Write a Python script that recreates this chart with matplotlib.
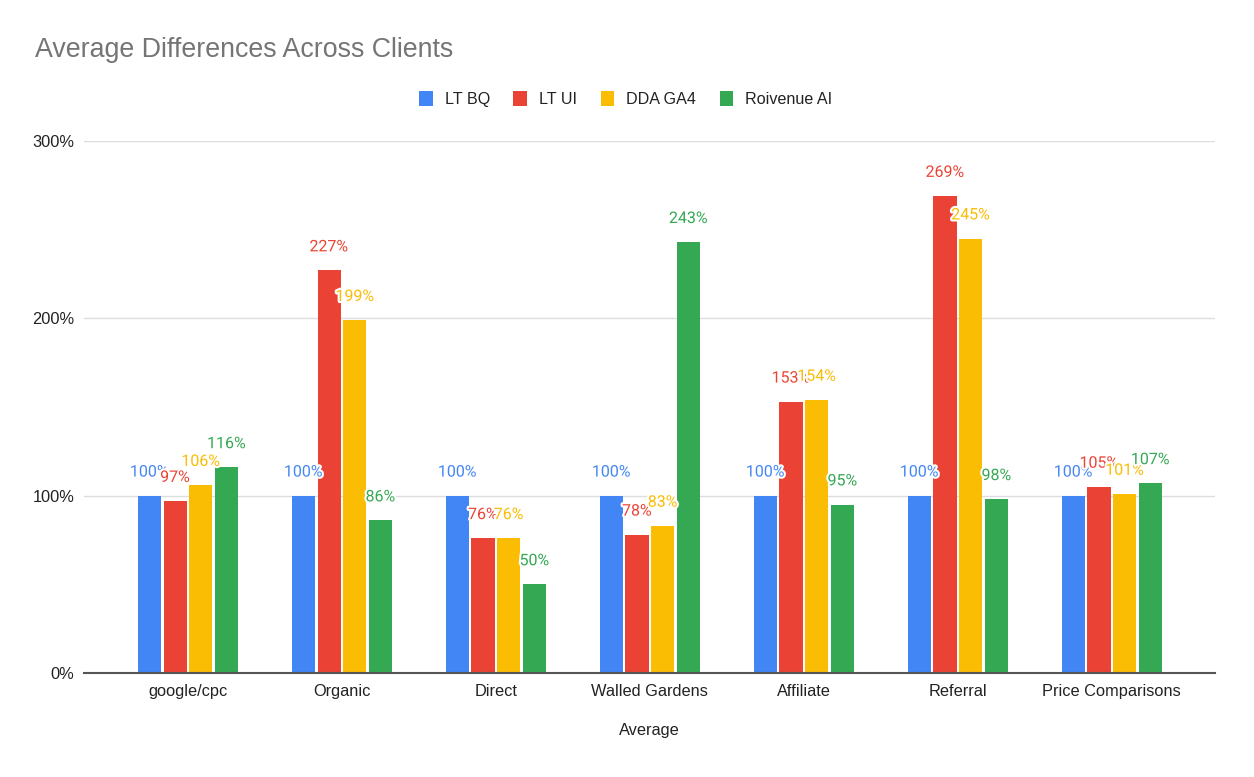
import numpy as np
import matplotlib.pyplot as plt
import matplotlib.patheffects as pe
from matplotlib.patches import Patch

plt.rcParams['font.family'] = ['Liberation Sans', 'DejaVu Sans']

categories = ["google/cpc", "Organic", "Direct", "Walled Gardens",
              "Affiliate", "Referral", "Price Comparisons"]
series_names = ["LT BQ", "LT UI", "DDA GA4", "Roivenue AI"]
lt_bq = [100, 100, 100, 100, 100, 100, 100]
lt_ui = [97, 227, 76, 78, 153, 269, 105]
dda_ga4 = [106, 199, 76, 83, 154, 245, 101]
roivenue_ai = [116, 86, 50, 243, 95, 98, 107]
yticks = [0, 100, 200, 300]

colors = ["#4285F4", "#EA4335", "#FBBC04", "#34A853"]
series = [lt_bq, lt_ui, dda_ga4, roivenue_ai]

fig = plt.figure(figsize=(12.54, 7.77), dpi=100)
ax = fig.add_axes([84 / 1254, 1 - 673 / 777, 1131 / 1254, 532 / 777])

x = np.arange(len(categories))
step = 0.167
width = 0.15
for i, (name, vals, col) in enumerate(zip(series_names, series, colors)):
    pos = x + (i - 1.5) * step
    ax.bar(pos, vals, width=width, color=col, label=name, zorder=3)
    for px, v in zip(pos, vals):
        ax.annotate(f"{v}%", (px, v), xytext=(0, 17), textcoords="offset points",
                    ha="center", va="center", fontsize=11.5, color=col, zorder=5,
                    family=["Roboto", "DejaVu Sans"],
                    path_effects=[pe.withStroke(linewidth=3, foreground="white")])

ax.set_xlim(-0.675, 6.67)
ax.set_ylim(0, 300)
ax.set_yticks(yticks)
ax.set_yticklabels([f"{t}%" for t in yticks])
ax.set_xticks(x)
ax.set_xticklabels(categories)
ax.tick_params(axis="both", length=0, labelsize=11.8, labelcolor="#222222")
ax.tick_params(axis="y", pad=7)
ax.tick_params(axis="x", pad=8)
ax.grid(axis="y", color="#dddddd", linewidth=1, zorder=0)
for s in ["top", "right", "left"]:
    ax.spines[s].set_visible(False)
ax.spines["bottom"].set_color("#555555")
ax.spines["bottom"].set_linewidth(1.5)
ax.spines["bottom"].set_zorder(4)

ax.set_xlabel("Average", fontsize=11.8, color="#222222", labelpad=17)

fig.text(35 / 1254, 1 - 50 / 777, "Average Differences Across Clients",
         fontsize=19.3, color="#757575", ha="left", va="center")

handles = [Patch(facecolor=c, label=n) for c, n in zip(colors, series_names)]
fig.legend(handles=handles, loc="center", bbox_to_anchor=(0.499, 1 - 99 / 777),
           ncol=4, frameon=False, fontsize=11.6, handlelength=0.85, handleheight=1.1,
           handletextpad=0.75, columnspacing=1.45, labelcolor="#222222")

fig.savefig("out.png", dpi=100)
